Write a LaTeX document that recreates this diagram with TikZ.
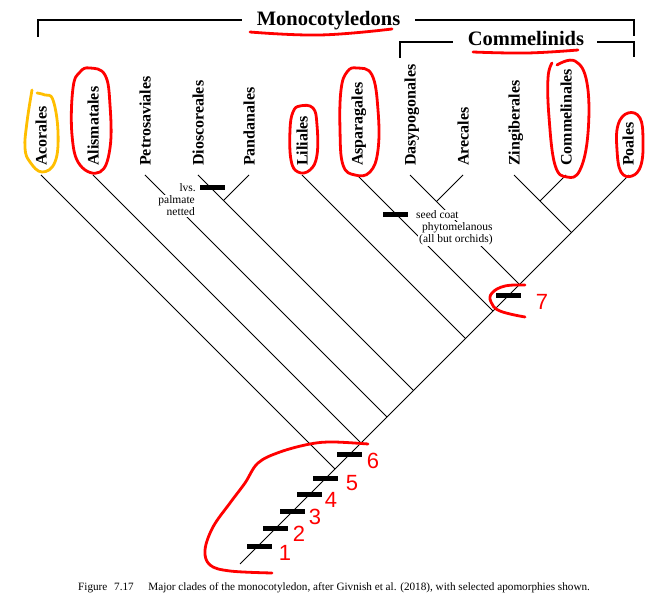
\documentclass[tikz,border=0pt]{standalone}
\usepackage{fontspec}
\setmainfont{Liberation Serif}
\newfontfamily\numfont{Liberation Sans}
\definecolor{hand}{RGB}{255,0,0}
\definecolor{handorange}{RGB}{255,190,0}
\begin{document}
\begin{tikzpicture}[x=1pt,y=-1pt,
  tree/.style={line width=0.9pt,black},
  bracket/.style={line width=1.6pt,black},
  taxon/.style={rotate=90,anchor=base west,inner sep=0pt,font=\fontsize{16}{16}\selectfont\bfseries},
  head/.style={anchor=base,inner sep=0pt,font=\fontsize{20.5}{20.5}\selectfont\bfseries},
  note/.style={fill=white,inner sep=1pt,font=\fontsize{11.5}{11.5}\selectfont},
  bar/.style={fill=black,inner sep=0pt,minimum width=25pt,minimum height=5pt},
  num/.style={text=hand,inner sep=0pt,font=\fontsize{22}{22}\selectfont\numfont},
  redmark/.style={draw=hand,line width=2.8pt,line cap=round,line join=round},
  orangemark/.style={draw=handorange,line width=2.8pt,line cap=round,line join=round}]
\useasboundingbox (0,0) rectangle (667,609);

% headers and brackets
\node[head] (mono) at (328.5,25.5) {Monocotyledons};
\node[head] (comm) at (526,46) {Commelinids};
\coordinate (m1) at (38,37);  \coordinate (m2) at (242,20);
\coordinate (m3) at (415,20); \coordinate (m4) at (634,36);
\coordinate (c1) at (400,58); \coordinate (c2) at (453,42);
\coordinate (c3) at (597,42); \coordinate (c4) at (634,57);
\draw[bracket] (m1) |- (m2);
\draw[bracket] (m3) -| (m4);
\draw[bracket] (c1) |- (c2);
\draw[bracket] (c3) -| (c4);

% taxon labels
\node[taxon] (tA) at (46.5,166) {Acorales};
\node[taxon] (tB) at (98.5,166) {Alismatales};
\node[taxon] (tC) at (150.5,166) {Petrosaviales};
\node[taxon] (tD) at (203.5,166) {Dioscoreales};
\node[taxon] (tE) at (254.5,166) {Pandanales};
\node[taxon] (tF) at (307.5,166) {Liliales};
\node[taxon] (tG) at (362.5,166) {Asparagales};
\node[taxon] (tH) at (415.5,166) {Dasypogonales};
\node[taxon] (tI) at (468.5,166) {Arecales};
\node[taxon] (tJ) at (519.5,166) {Zingiberales};
\node[taxon] (tK) at (571.5,166) {Commelinales};
\node[taxon] (tL) at (633.5,166) {Poales};

% tips
\coordinate (A) at (41,175);  \coordinate (B) at (93,175);
\coordinate (C) at (145,175); \coordinate (D) at (198,175);
\coordinate (E) at (249,175); \coordinate (F) at (302,175);
\coordinate (G) at (357,175); \coordinate (H) at (410,175);
\coordinate (I) at (463,175); \coordinate (J) at (514,175);
\coordinate (K) at (566,175); \coordinate (L) at (629,175);
% junctions
\coordinate (root) at (240,564);
\coordinate (jA) at (335,469);
\coordinate (jB) at (361,443);
\coordinate (jC) at (387,417);
\coordinate (jD) at (413.5,390.5);
\coordinate (jE) at (223.5,200.5);
\coordinate (jF) at (465.5,338.5);
\coordinate (jG) at (493,311);
\coordinate (jH) at (519.5,284.5);
\coordinate (jI) at (436.5,201.5);
\coordinate (jJ) at (571.5,232.5);
\coordinate (jK) at (540,201);

\draw[tree] (L) -- (root);
\draw[tree] (A) -- (jA);
\draw[tree] (B) -- (jB);
\draw[tree] (C) -- (jC);
\draw[tree] (D) -- (jD);
\draw[tree] (E) -- (jE);
\draw[tree] (F) -- (jF);
\draw[tree] (G) -- (jG);
\draw[tree] (H) -- (jH);
\draw[tree] (I) -- (jI);
\draw[tree] (J) -- (jJ);
\draw[tree] (K) -- (jK);

% annotations
\node[note,anchor=base east] (lvs) at (197,192) {lvs.};
\node[note,anchor=base east] (palm) at (196,204) {palmate};
\node[note,anchor=base east] (net) at (196,215.5) {netted};
\node[note,anchor=base west] (seed) at (415,218.5) {seed coat};
\node[note,anchor=base west] (phyto) at (421,230.5) {phytomelanous};
\node[note,anchor=base west] (orch) at (418,242.5) {(all but orchids)};

% apomorphy bars
\node[bar] (bL) at (212,187.5) {};
\node[bar] (bS) at (395.5,214.5) {};
\node[bar] (b1) at (259,546) {};
\node[bar] (b2) at (275,528) {};
\node[bar] (b3) at (292,511) {};
\node[bar] (b4) at (309,495) {};
\node[bar] (b5) at (325.5,479) {};
\node[bar] (b6) at (349.5,455) {};
\node[bar] (b7) at (508,295.5) {};

% red numbers
\node[num] (n1) at (285,553) {1};
\node[num] (n2) at (299,534) {2};
\node[num] (n3) at (315,517) {3};
\node[num] (n4) at (331,500) {4};
\node[num] (n5) at (352,483) {5};
\node[num] (n6) at (373,461) {6};
\node[num] (n7) at (542,302) {7};

% hand-drawn marks
\draw[orangemark] plot[smooth,tension=0.7] coordinates {(32,90) (27,122) (25,148) (30,162) (42,172) (55,162) (58,132) (53,100) (45,95) (37,93)};
\draw[redmark] plot[smooth cycle,tension=0.7] coordinates {(90,68) (105,75) (110,105) (110,148) (100,172) (80,165) (72,135) (73,88) (80,72)};
\draw[redmark] plot[smooth cycle,tension=0.7] coordinates {(300,106) (313,108) (317,125) (317,155) (310,170) (298,172) (291,160) (290,130) (293,112)};
\draw[redmark] plot[smooth cycle,tension=0.7] coordinates {(357,68) (372,75) (378,110) (378,150) (370,172) (355,175) (343,165) (340,130) (341,90) (347,72)};
\draw[redmark] plot[smooth,tension=0.7] coordinates {(557,65) (575,61) (587,83) (588,133) (580,170) (567,177) (555,165) (549,117) (548,78) (552,63)};
\draw[redmark] plot[smooth cycle,tension=0.7] coordinates {(628,113) (640,118) (643,140) (641,165) (632,176) (621,172) (617,150) (618,125)};
\draw[redmark] plot[smooth,tension=0.7] coordinates {(250,32) (320,35) (392,29)};
\draw[redmark] plot[smooth,tension=0.7] coordinates {(473,52) (527,53) (578,50)};
\draw[redmark] plot[smooth,tension=0.7] coordinates {(525,285) (505,286) (492,293) (491,302) (500,311) (525,317)};
\draw[redmark] plot[smooth,tension=0.6] coordinates {(368,444) (333,442) (310,444) (280,452) (258,463) (245,483) (230,503) (213,527) (205,550) (210,565) (230,571) (272,573)};

% caption
\node[inner sep=0pt,anchor=base west,font=\fontsize{11.2}{11.2}\selectfont] (cap) at (78,590)
  {Figure\hspace{0.6em}7.17\hspace{1.3em}Major clades of the monocotyledon, after Givnish et al. (2018), with selected apomorphies shown.};
\end{tikzpicture}
\end{document}
